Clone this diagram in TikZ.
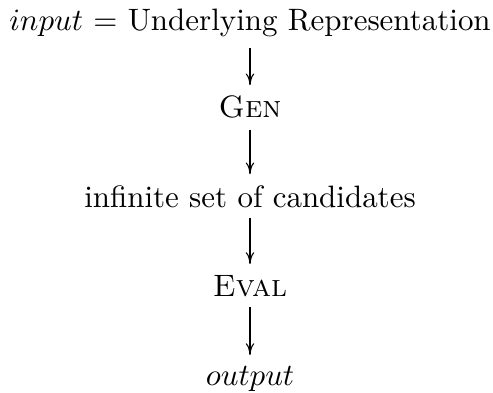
\documentclass[tikz,border=0pt]{standalone}
\usetikzlibrary{arrows.meta}
\begin{document}
\begin{tikzpicture}[x=0.323pt,y=0.323pt,
  lbl/.style={font=\normalsize, anchor=base},
  arr/.style={-{Computer Modern Rightarrow[length=3.8pt,width=2.8pt]}, line width=0.35pt}]
\useasboundingbox (0,0) rectangle (493,-392);
\node[lbl] (in)   at (250,-31)  {$input$ = Underlying Representation};
\node[lbl] (gen)  at (250,-118) {\textsc{Gen}};
\node[lbl] (cand) at (250,-207) {infinite set of candidates};
\node[lbl] (eval) at (250,-296) {\textsc{Eval}};
\node[lbl] (out)  at (250,-385) {$output$};
\draw[arr] (in) -- (gen);
\draw[arr] (gen) -- (cand);
\draw[arr] (cand) -- (eval);
\draw[arr] (eval) -- (out);
\end{tikzpicture}
\end{document}
